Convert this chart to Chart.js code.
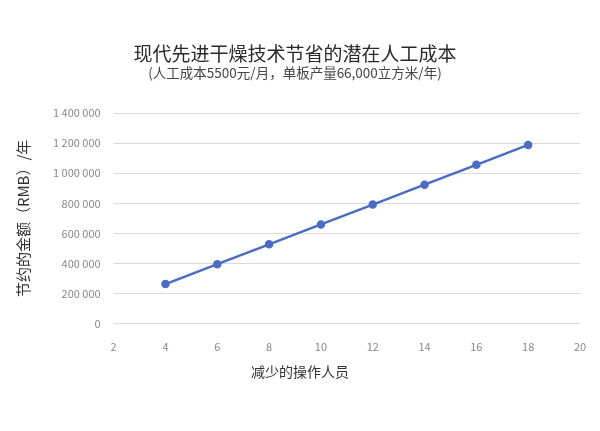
<!DOCTYPE html>
<html>
<head>
<meta charset="utf-8">
<script src="https://cdn.jsdelivr.net/npm/chart.js@4"></script>
<style>
  body { margin: 0; background: #fff; }
  #wrap { width: 600px; height: 431px; }
</style>
</head>
<body>
<div id="wrap"><canvas id="cost"></canvas></div>
<script>
var staffReduced = [4, 6, 8, 10, 12, 14, 16, 18];
var savings = [264000, 396000, 528000, 660000, 792000, 924000, 1056000, 1188000];
var chartTitle = '现代先进干燥技术节省的潜在人工成本';
var chartSubtitle = '(人工成本5500元/月，单板产量66,000立方米/年)';
var xTitle = '减少的操作人员';
var yTitle = '节约的金额（RMB）/年';
var font = "'Noto Sans CJK SC', 'Noto Sans', sans-serif";

function spaced(v) {
  return String(v).replace(/\B(?=(\d{3})+(?!\d))/g, ' ');
}

// x axis title sits left of centre in the original, so draw it by hand
var xTitlePlugin = {
  id: 'xTitle',
  afterDraw: function (chart) {
    var ctx = chart.ctx;
    ctx.save();
    ctx.font = '14px ' + font;
    ctx.fillStyle = '#333';
    ctx.textAlign = 'center';
    ctx.textBaseline = 'middle';
    ctx.fillText(xTitle, 300, 372);
    ctx.restore();
  }
};

document.addEventListener("DOMContentLoaded", function () {
  new Chart(document.getElementById('cost').getContext('2d'), {
    type: 'line',
    data: {
      datasets: [{
        data: staffReduced.map(function (x, i) { return { x: x, y: savings[i] }; }),
        borderColor: '#4a6cc4',
        backgroundColor: '#4a6cc4',
        borderWidth: 2.5,
        pointRadius: 3,
        pointHoverRadius: 3,
        fill: false
      }]
    },
    options: {
      responsive: true,
      maintainAspectRatio: false,
      animation: false,
      layout: { padding: { top: 10, left: 10, right: 20, bottom: 70 } },
      plugins: {
        legend: { display: false },
        tooltip: { enabled: false },
        title: {
          display: true,
          text: chartTitle,
          color: '#2a2a2a',
          font: { family: font, size: 19, weight: 'normal' },
          padding: { top: 32, bottom: 0 }
        },
        subtitle: {
          display: true,
          text: chartSubtitle,
          color: '#444',
          font: { family: font, size: 13.5 },
          padding: { top: 0, bottom: 32 }
        }
      },
      scales: {
        x: {
          type: 'linear',
          min: 2,
          max: 20,
          ticks: { stepSize: 2, color: '#888', font: { family: font, size: 11 }, padding: 8 },
          grid: { display: false },
          border: { display: false }
        },
        y: {
          min: 0,
          max: 1400000,
          ticks: {
            stepSize: 200000,
            color: '#888',
            font: { family: font, size: 11 },
            padding: 13,
            callback: function (v) { return spaced(v); }
          },
          grid: { color: '#d9d9d9', drawTicks: false },
          border: { display: false },
          title: {
            display: true,
            text: yTitle,
            color: '#333',
            font: { family: font, size: 15 },
            padding: { bottom: 8 }
          }
        }
      }
    },
    plugins: [xTitlePlugin]
  });
});
</script>
</body>
</html>
